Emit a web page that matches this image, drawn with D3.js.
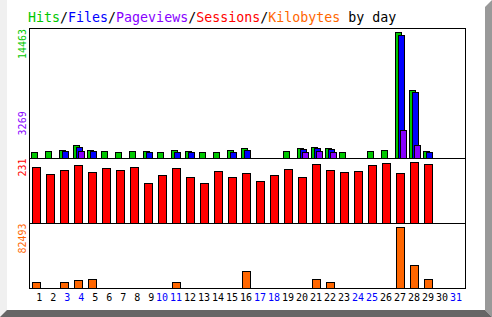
<!DOCTYPE html>
<meta charset="utf-8">
<style>
body { margin: 0; background: #fff; }
svg { display: block; }
text { font-family: "DejaVu Sans Mono", "Liberation Mono", monospace; }
</style>
<svg width="492" height="317"></svg>
<script src="https://d3js.org/d3.v7.min.js"></script>
<script>

var days = d3.range(1, 32);
var weekend = [3, 4, 10, 11, 17, 18, 24, 25, 31];

var hits      = [723, 838, 953, 1527, 953, 838, 723, 838, 838, 723, 953, 838, 723, 723, 953, 1182,
                 0, 0, 838, 1182, 1297, 1182, 723, 0, 838, 953, 14463, 7840, 838, 0, 0];
var files     = [0, 0, 838, 1297, 838, 0, 0, 0, 723, 0, 723, 723, 0, 0, 723, 953,
                 0, 0, 0, 1068, 1182, 1068, 0, 0, 0, 0, 14120, 7610, 723, 0, 0];
var pageviews = [0, 0, 0, 838, 0, 0, 0, 0, 0, 0, 0, 0, 0, 0, 0, 0,
                 0, 0, 0, 723, 838, 723, 0, 0, 0, 0, 3269, 1527, 0, 0, 0];
var sessions  = [212, 187, 202, 221, 194, 208, 202, 212, 153, 183, 208, 174, 153, 198, 174, 190,
                 160, 183, 206, 175, 224, 202, 194, 198, 221, 228, 190, 231, 224, 0, 0];
var kbytes    = [8440, 0, 8440, 11100, 12450, 0, 0, 0, 0, 0, 8440, 0, 0, 0, 0, 23170,
                 0, 0, 0, 0, 12450, 8440, 0, 0, 0, 0, 82493, 31200, 12450, 0, 0];

var titleParts = [
  {t: "Hits", c: "#00c800"}, {t: "/", c: "#000"},
  {t: "Files", c: "#0000ff"}, {t: "/", c: "#000"},
  {t: "Pageviews", c: "#8800ff"}, {t: "/", c: "#000"},
  {t: "Sessions", c: "#ff0000"}, {t: "/", c: "#000"},
  {t: "Kilobytes", c: "#ff6600"}, {t: " by day", c: "#000"}
];

var svg = d3.select("svg");

// bevelled picture border
svg.append("rect").attr("x", 0).attr("y", 0).attr("width", 7).attr("height", 317).attr("fill", "#f0f0f0");
svg.append("polygon").attr("points", "485,7 492,0 492,317 485,310").attr("fill", "#999");
svg.append("polygon").attr("points", "0,317 7,310 485,310 492,317").attr("fill", "#666");

var x = d3.scaleBand().domain(days).range([31, 465]);
var yTop = d3.scaleLinear().domain([0, d3.max(hits)]).range([158.5, 32]);
var yMid = d3.scaleLinear().domain([0, d3.max(sessions)]).range([223.5, 162]);
var yBot = d3.scaleLinear().domain([0, d3.max(kbytes)]).range([288.5, 226.5]);

// title
var title = svg.append("text").attr("x", 28).attr("y", 22).style("font-size", "13.3px");
title.selectAll("tspan").data(titleParts).enter().append("tspan")
    .attr("fill", function(d) { return d.c; })
    .text(function(d) { return d.t; });

// bars
function bars(values, y, color, dx, w) {
  svg.append("g").selectAll("rect")
    .data(days.filter(function(d) { return values[d - 1] > 0; }))
    .enter().append("rect")
      .attr("x", function(d) { return x(d) + dx; })
      .attr("y", function(d) { return Math.round(y(values[d - 1])) + 0.5; })
      .attr("width", w)
      .attr("height", function(d) { return y.range()[0] - Math.round(y(values[d - 1])) - 0.5; })
      .attr("fill", color)
      .attr("stroke", "#000");
}

bars(hits, yTop, "#00c800", 0.5, 6);
bars(files, yTop, "#0000ff", 3.5, 6);
bars(pageviews, yTop, "#8800ff", 5.5, 6);
bars(sessions, yMid, "#ff0000", 1.5, 8);
bars(kbytes, yBot, "#ff6600", 1.5, 8);

// frame
svg.append("rect").attr("x", 29.5).attr("y", 28.5).attr("width", 436).attr("height", 260)
    .attr("fill", "none").attr("stroke", "#000");
[158.5, 223.5].forEach(function(yy) {
  svg.append("line").attr("x1", 29.5).attr("x2", 465.5).attr("y1", yy).attr("y2", yy).attr("stroke", "#000");
});

// vertical max labels
function vlabel(txt, yy, anchor, color) {
  svg.append("text")
      .attr("transform", "translate(26," + yy + ") rotate(-90)")
      .attr("text-anchor", anchor)
      .attr("fill", color)
      .style("font-size", "10px")
      .text(txt);
}
vlabel(d3.max(hits), 29, "end", "#00c800");
vlabel(d3.max(pageviews), yTop(d3.max(pageviews)) + 5.5, "start", "#8800ff");
vlabel(d3.max(sessions), 158.5, "end", "#ff0000");
vlabel(d3.max(kbytes), 223.5, "end", "#ff6600");

// day labels
svg.append("g").selectAll("text")
  .data(days)
  .enter().append("text")
    .attr("x", function(d) { return x(d) + (d < 10 ? 8.3 : 5); })
    .attr("y", 301)
    .attr("text-anchor", "middle")
    .attr("fill", function(d) { return weekend.indexOf(d) >= 0 ? "#0000ff" : "#000"; })
    .style("font-size", "10px")
    .text(function(d) { return d; });

</script>
